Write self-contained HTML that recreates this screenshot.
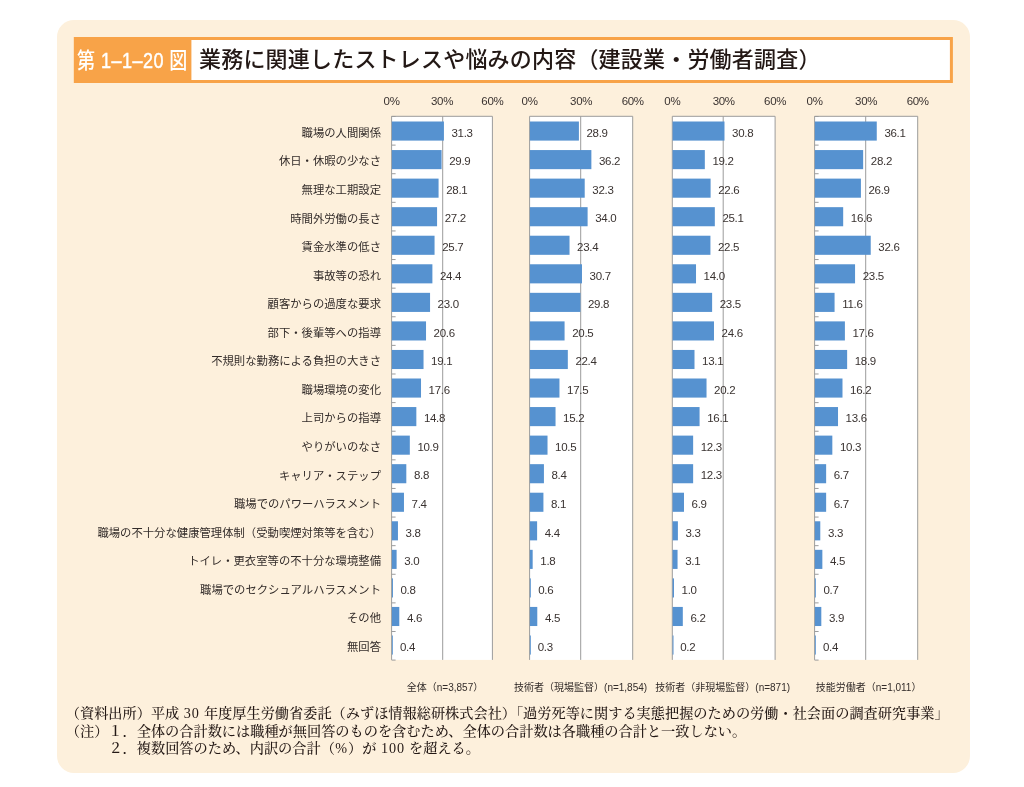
<!DOCTYPE html>
<html lang="ja">
<head>
<meta charset="utf-8">
<title>第1-1-20図 業務に関連したストレスや悩みの内容（建設業・労働者調査）</title>
<style>
html,body{margin:0;padding:0;background:#fff;}
body{width:1024px;height:787px;position:relative;overflow:hidden;color:#2b2422;
 font-family:"Liberation Sans","Noto Sans CJK JP",sans-serif;}
.fignum{position:absolute;left:74px;top:37px;width:117px;height:46px;}
.fignum span{position:absolute;left:2.7px;top:1.3px;letter-spacing:0.55px;height:46px;line-height:46px;font-size:22px;font-weight:500;color:#fff;white-space:nowrap;
 display:inline-block;transform:scaleX(0.82);transform-origin:0 50%;}
.fignum b{font-weight:inherit;-webkit-text-stroke:0.45px #fff;}
.title{position:absolute;left:199px;top:40px;height:40px;line-height:40px;font-size:22px;font-weight:500;color:#231815;white-space:nowrap;letter-spacing:0.2px;}
.ax{position:absolute;top:94.0px;width:40px;margin-left:-20px;text-align:center;font-size:11.5px;line-height:14px;color:#3a3331;letter-spacing:-0.3px;}
.val{position:absolute;font-size:11.5px;line-height:14px;color:#3a3331;white-space:nowrap;letter-spacing:-0.3px;}
.cat{position:absolute;left:60px;width:321px;text-align:right;font-size:11.35px;line-height:16px;color:#332c2a;white-space:nowrap;}
.plab{position:absolute;top:680.5px;width:200px;margin-left:-100px;text-align:center;font-size:10px;line-height:14px;color:#332c2a;white-space:nowrap;}
.note .d{letter-spacing:0.9px;margin-left:0.5px}
.note{position:absolute;word-spacing:0.5px;left:65.8px;font-weight:500;font-family:"Liberation Serif","Noto Serif CJK SC",serif;font-size:14.2px;line-height:18px;color:#231815;white-space:nowrap;}
</style>
</head>
<body>
<svg width="1024" height="787" viewBox="0 0 1024 787" style="position:absolute;left:0;top:0">
<rect x="57" y="20" width="913" height="753" rx="17" ry="17" fill="#FDF0DC"/>
<rect x="75.4" y="38.5" width="876" height="43" fill="#fff" stroke="#F8A348" stroke-width="3"/>
<rect x="73.9" y="37" width="117.5" height="46" fill="#F8A348"/>
</svg>
<div class="fignum"><span>第 <b>1–1–20</b> 図</span></div>
<div class="title">業務に関連したストレスや悩みの内容（建設業・労働者調査）</div>

<svg class="shapes" width="1024" height="787" viewBox="0 0 1024 787" style="position:absolute;left:0;top:0">
<rect x="391.60" y="116.30" width="100.80" height="543.60" fill="#fff"/>
<path d="M391.60 659.90V116.30H492.40V659.90M442.70 116.30V659.90" fill="none" stroke="#9c9c9c" stroke-width="1"/>
<rect x="391.90" y="121.50" width="52.02" height="19.1" fill="#5692D0"/>
<rect x="391.90" y="150.06" width="49.68" height="19.1" fill="#5692D0"/>
<rect x="391.90" y="178.61" width="46.67" height="19.1" fill="#5692D0"/>
<rect x="391.90" y="207.16" width="45.17" height="19.1" fill="#5692D0"/>
<rect x="391.90" y="235.72" width="42.66" height="19.1" fill="#5692D0"/>
<rect x="391.90" y="264.27" width="40.49" height="19.1" fill="#5692D0"/>
<rect x="391.90" y="292.83" width="38.15" height="19.1" fill="#5692D0"/>
<rect x="391.90" y="321.38" width="34.13" height="19.1" fill="#5692D0"/>
<rect x="391.90" y="349.94" width="31.63" height="19.1" fill="#5692D0"/>
<rect x="391.90" y="378.50" width="29.12" height="19.1" fill="#5692D0"/>
<rect x="391.90" y="407.05" width="24.44" height="19.1" fill="#5692D0"/>
<rect x="391.90" y="435.61" width="17.92" height="19.1" fill="#5692D0"/>
<rect x="391.90" y="464.16" width="14.41" height="19.1" fill="#5692D0"/>
<rect x="391.90" y="492.71" width="12.07" height="19.1" fill="#5692D0"/>
<rect x="391.90" y="521.27" width="6.05" height="19.1" fill="#5692D0"/>
<rect x="391.90" y="549.83" width="4.71" height="19.1" fill="#5692D0"/>
<rect x="391.90" y="578.38" width="1.04" height="19.1" fill="#5692D0"/>
<rect x="391.90" y="606.93" width="7.39" height="19.1" fill="#5692D0"/>
<rect x="391.90" y="635.49" width="0.90" height="19.1" fill="#5692D0"/>
<path d="M391.60 116.50h4M391.60 145.11h4M391.60 173.72h4M391.60 202.33h4M391.60 230.94h4M391.60 259.55h4M391.60 288.16h4M391.60 316.77h4M391.60 345.38h4M391.60 373.99h4M391.60 402.61h4M391.60 431.22h4M391.60 459.83h4M391.60 488.44h4M391.60 517.05h4M391.60 545.66h4M391.60 574.27h4M391.60 602.88h4M391.60 631.49h4M391.60 660.10h4" fill="none" stroke="#9c9c9c" stroke-width="1"/>
<rect x="529.60" y="116.30" width="103.10" height="543.60" fill="#fff"/>
<path d="M529.60 659.90V116.30H632.70V659.90M580.70 116.30V659.90" fill="none" stroke="#9c9c9c" stroke-width="1"/>
<rect x="529.90" y="121.50" width="49.01" height="19.1" fill="#5692D0"/>
<rect x="529.90" y="150.06" width="61.47" height="19.1" fill="#5692D0"/>
<rect x="529.90" y="178.61" width="54.81" height="19.1" fill="#5692D0"/>
<rect x="529.90" y="207.16" width="57.71" height="19.1" fill="#5692D0"/>
<rect x="529.90" y="235.72" width="39.63" height="19.1" fill="#5692D0"/>
<rect x="529.90" y="264.27" width="52.08" height="19.1" fill="#5692D0"/>
<rect x="529.90" y="292.83" width="50.55" height="19.1" fill="#5692D0"/>
<rect x="529.90" y="321.38" width="34.68" height="19.1" fill="#5692D0"/>
<rect x="529.90" y="349.94" width="37.92" height="19.1" fill="#5692D0"/>
<rect x="529.90" y="378.50" width="29.56" height="19.1" fill="#5692D0"/>
<rect x="529.90" y="407.05" width="25.64" height="19.1" fill="#5692D0"/>
<rect x="529.90" y="435.61" width="17.62" height="19.1" fill="#5692D0"/>
<rect x="529.90" y="464.16" width="14.03" height="19.1" fill="#5692D0"/>
<rect x="529.90" y="492.71" width="13.52" height="19.1" fill="#5692D0"/>
<rect x="529.90" y="521.27" width="7.21" height="19.1" fill="#5692D0"/>
<rect x="529.90" y="549.83" width="2.77" height="19.1" fill="#5692D0"/>
<rect x="529.90" y="578.38" width="0.90" height="19.1" fill="#5692D0"/>
<rect x="529.90" y="606.93" width="7.38" height="19.1" fill="#5692D0"/>
<rect x="529.90" y="635.49" width="0.90" height="19.1" fill="#5692D0"/>
<rect x="672.30" y="116.30" width="102.80" height="543.60" fill="#fff"/>
<path d="M672.30 659.90V116.30H775.10V659.90M723.20 116.30V659.90" fill="none" stroke="#9c9c9c" stroke-width="1"/>
<rect x="672.60" y="121.50" width="51.89" height="19.1" fill="#5692D0"/>
<rect x="672.60" y="150.06" width="32.23" height="19.1" fill="#5692D0"/>
<rect x="672.60" y="178.61" width="38.00" height="19.1" fill="#5692D0"/>
<rect x="672.60" y="207.16" width="42.23" height="19.1" fill="#5692D0"/>
<rect x="672.60" y="235.72" width="37.83" height="19.1" fill="#5692D0"/>
<rect x="672.60" y="264.27" width="23.42" height="19.1" fill="#5692D0"/>
<rect x="672.60" y="292.83" width="39.52" height="19.1" fill="#5692D0"/>
<rect x="672.60" y="321.38" width="41.38" height="19.1" fill="#5692D0"/>
<rect x="672.60" y="349.94" width="21.90" height="19.1" fill="#5692D0"/>
<rect x="672.60" y="378.50" width="33.93" height="19.1" fill="#5692D0"/>
<rect x="672.60" y="407.05" width="26.98" height="19.1" fill="#5692D0"/>
<rect x="672.60" y="435.61" width="20.54" height="19.1" fill="#5692D0"/>
<rect x="672.60" y="464.16" width="20.54" height="19.1" fill="#5692D0"/>
<rect x="672.60" y="492.71" width="11.39" height="19.1" fill="#5692D0"/>
<rect x="672.60" y="521.27" width="5.29" height="19.1" fill="#5692D0"/>
<rect x="672.60" y="549.83" width="4.95" height="19.1" fill="#5692D0"/>
<rect x="672.60" y="578.38" width="1.39" height="19.1" fill="#5692D0"/>
<rect x="672.60" y="606.93" width="10.21" height="19.1" fill="#5692D0"/>
<rect x="672.60" y="635.49" width="0.90" height="19.1" fill="#5692D0"/>
<rect x="814.60" y="116.30" width="103.10" height="543.60" fill="#fff"/>
<path d="M814.60 659.90V116.30H917.70V659.90M865.70 116.30V659.90" fill="none" stroke="#9c9c9c" stroke-width="1"/>
<rect x="814.90" y="121.50" width="61.86" height="19.1" fill="#5692D0"/>
<rect x="814.90" y="150.06" width="48.25" height="19.1" fill="#5692D0"/>
<rect x="814.90" y="178.61" width="46.02" height="19.1" fill="#5692D0"/>
<rect x="814.90" y="207.16" width="28.28" height="19.1" fill="#5692D0"/>
<rect x="814.90" y="235.72" width="55.83" height="19.1" fill="#5692D0"/>
<rect x="814.90" y="264.27" width="40.16" height="19.1" fill="#5692D0"/>
<rect x="814.90" y="292.83" width="19.67" height="19.1" fill="#5692D0"/>
<rect x="814.90" y="321.38" width="30.00" height="19.1" fill="#5692D0"/>
<rect x="814.90" y="349.94" width="32.24" height="19.1" fill="#5692D0"/>
<rect x="814.90" y="378.50" width="27.59" height="19.1" fill="#5692D0"/>
<rect x="814.90" y="407.05" width="23.12" height="19.1" fill="#5692D0"/>
<rect x="814.90" y="435.61" width="17.43" height="19.1" fill="#5692D0"/>
<rect x="814.90" y="464.16" width="11.24" height="19.1" fill="#5692D0"/>
<rect x="814.90" y="492.71" width="11.24" height="19.1" fill="#5692D0"/>
<rect x="814.90" y="521.27" width="5.38" height="19.1" fill="#5692D0"/>
<rect x="814.90" y="549.83" width="7.45" height="19.1" fill="#5692D0"/>
<rect x="814.90" y="578.38" width="0.91" height="19.1" fill="#5692D0"/>
<rect x="814.90" y="606.93" width="6.41" height="19.1" fill="#5692D0"/>
<rect x="814.90" y="635.49" width="0.90" height="19.1" fill="#5692D0"/>
<path d="M814.60 116.50h4M814.60 145.11h4M814.60 173.72h4M814.60 202.33h4M814.60 230.94h4M814.60 259.55h4M814.60 288.16h4M814.60 316.77h4M814.60 345.38h4M814.60 373.99h4M814.60 402.61h4M814.60 431.22h4M814.60 459.83h4M814.60 488.44h4M814.60 517.05h4M814.60 545.66h4M814.60 574.27h4M814.60 602.88h4M814.60 631.49h4M814.60 660.10h4" fill="none" stroke="#9c9c9c" stroke-width="1"/>
</svg>
<div class="ax" style="left:391.6px">0%</div>
<div class="ax" style="left:442.0px">30%</div>
<div class="ax" style="left:492.4px">60%</div>
<div class="val" style="left:451.5px;top:125.8px">31.3</div>
<div class="val" style="left:449.2px;top:154.3px">29.9</div>
<div class="val" style="left:446.2px;top:182.9px">28.1</div>
<div class="val" style="left:444.7px;top:211.4px">27.2</div>
<div class="val" style="left:442.2px;top:240.0px">25.7</div>
<div class="val" style="left:440.0px;top:268.5px">24.4</div>
<div class="val" style="left:437.6px;top:297.1px">23.0</div>
<div class="val" style="left:433.6px;top:325.6px">20.6</div>
<div class="val" style="left:431.1px;top:354.2px">19.1</div>
<div class="val" style="left:428.6px;top:382.7px">17.6</div>
<div class="val" style="left:423.9px;top:411.3px">14.8</div>
<div class="val" style="left:417.4px;top:439.9px">10.9</div>
<div class="val" style="left:413.9px;top:468.4px">8.8</div>
<div class="val" style="left:411.6px;top:497.0px">7.4</div>
<div class="val" style="left:405.6px;top:525.5px">3.8</div>
<div class="val" style="left:404.2px;top:554.1px">3.0</div>
<div class="val" style="left:400.5px;top:582.6px">0.8</div>
<div class="val" style="left:406.9px;top:611.2px">4.6</div>
<div class="val" style="left:399.9px;top:639.7px">0.4</div>
<div class="plab" style="left:445.0px">全体（n=3,857）</div>
<div class="ax" style="left:529.6px">0%</div>
<div class="ax" style="left:581.1px">30%</div>
<div class="ax" style="left:632.7px">60%</div>
<div class="val" style="left:586.5px;top:125.8px">28.9</div>
<div class="val" style="left:599.0px;top:154.3px">36.2</div>
<div class="val" style="left:592.3px;top:182.9px">32.3</div>
<div class="val" style="left:595.2px;top:211.4px">34.0</div>
<div class="val" style="left:577.1px;top:240.0px">23.4</div>
<div class="val" style="left:589.6px;top:268.5px">30.7</div>
<div class="val" style="left:588.0px;top:297.1px">29.8</div>
<div class="val" style="left:572.2px;top:325.6px">20.5</div>
<div class="val" style="left:575.4px;top:354.2px">22.4</div>
<div class="val" style="left:567.1px;top:382.7px">17.5</div>
<div class="val" style="left:563.1px;top:411.3px">15.2</div>
<div class="val" style="left:555.1px;top:439.9px">10.5</div>
<div class="val" style="left:551.5px;top:468.4px">8.4</div>
<div class="val" style="left:551.0px;top:497.0px">8.1</div>
<div class="val" style="left:544.7px;top:525.5px">4.4</div>
<div class="val" style="left:540.3px;top:554.1px">1.8</div>
<div class="val" style="left:538.2px;top:582.6px">0.6</div>
<div class="val" style="left:544.9px;top:611.2px">4.5</div>
<div class="val" style="left:537.7px;top:639.7px">0.3</div>
<div class="plab" style="left:580.6px">技術者（現場監督）(n=1,854)</div>
<div class="ax" style="left:672.3px">0%</div>
<div class="ax" style="left:723.7px">30%</div>
<div class="ax" style="left:775.1px">60%</div>
<div class="val" style="left:732.1px;top:125.8px">30.8</div>
<div class="val" style="left:712.4px;top:154.3px">19.2</div>
<div class="val" style="left:718.2px;top:182.9px">22.6</div>
<div class="val" style="left:722.4px;top:211.4px">25.1</div>
<div class="val" style="left:718.0px;top:240.0px">22.5</div>
<div class="val" style="left:703.6px;top:268.5px">14.0</div>
<div class="val" style="left:719.7px;top:297.1px">23.5</div>
<div class="val" style="left:721.6px;top:325.6px">24.6</div>
<div class="val" style="left:702.1px;top:354.2px">13.1</div>
<div class="val" style="left:714.1px;top:382.7px">20.2</div>
<div class="val" style="left:707.2px;top:411.3px">16.1</div>
<div class="val" style="left:700.7px;top:439.9px">12.3</div>
<div class="val" style="left:700.7px;top:468.4px">12.3</div>
<div class="val" style="left:691.6px;top:497.0px">6.9</div>
<div class="val" style="left:685.5px;top:525.5px">3.3</div>
<div class="val" style="left:685.2px;top:554.1px">3.1</div>
<div class="val" style="left:681.6px;top:582.6px">1.0</div>
<div class="val" style="left:690.4px;top:611.2px">6.2</div>
<div class="val" style="left:680.2px;top:639.7px">0.2</div>
<div class="plab" style="left:722.7px">技術者（非現場監督）(n=871)</div>
<div class="ax" style="left:814.6px">0%</div>
<div class="ax" style="left:866.1px">30%</div>
<div class="ax" style="left:917.7px">60%</div>
<div class="val" style="left:884.4px;top:125.8px">36.1</div>
<div class="val" style="left:870.8px;top:154.3px">28.2</div>
<div class="val" style="left:868.5px;top:182.9px">26.9</div>
<div class="val" style="left:850.8px;top:211.4px">16.6</div>
<div class="val" style="left:878.3px;top:240.0px">32.6</div>
<div class="val" style="left:862.7px;top:268.5px">23.5</div>
<div class="val" style="left:842.2px;top:297.1px">11.6</div>
<div class="val" style="left:852.5px;top:325.6px">17.6</div>
<div class="val" style="left:854.7px;top:354.2px">18.9</div>
<div class="val" style="left:850.1px;top:382.7px">16.2</div>
<div class="val" style="left:845.6px;top:411.3px">13.6</div>
<div class="val" style="left:839.9px;top:439.9px">10.3</div>
<div class="val" style="left:833.7px;top:468.4px">6.7</div>
<div class="val" style="left:833.7px;top:497.0px">6.7</div>
<div class="val" style="left:827.9px;top:525.5px">3.3</div>
<div class="val" style="left:829.9px;top:554.1px">4.5</div>
<div class="val" style="left:823.4px;top:582.6px">0.7</div>
<div class="val" style="left:828.9px;top:611.2px">3.9</div>
<div class="val" style="left:822.9px;top:639.7px">0.4</div>
<div class="plab" style="left:868.6px">技能労働者（n=1,011）</div>
<div class="cat" style="top:124.8px">職場の人間関係</div>
<div class="cat" style="top:153.4px">休日・休暇の少なさ</div>
<div class="cat" style="top:181.9px">無理な工期設定</div>
<div class="cat" style="top:210.5px">時間外労働の長さ</div>
<div class="cat" style="top:239.0px">賃金水準の低さ</div>
<div class="cat" style="top:267.6px">事故等の恐れ</div>
<div class="cat" style="top:296.1px">顧客からの過度な要求</div>
<div class="cat" style="top:324.7px">部下・後輩等への指導</div>
<div class="cat" style="top:353.2px">不規則な勤務による負担の大きさ</div>
<div class="cat" style="top:381.8px">職場環境の変化</div>
<div class="cat" style="top:410.4px">上司からの指導</div>
<div class="cat" style="top:438.9px">やりがいのなさ</div>
<div class="cat" style="top:467.5px">キャリア・ステップ</div>
<div class="cat" style="top:496.0px">職場でのパワーハラスメント</div>
<div class="cat" style="top:524.6px">職場の不十分な健康管理体制（受動喫煙対策等を含む）</div>
<div class="cat" style="top:553.1px">トイレ・更衣室等の不十分な環境整備</div>
<div class="cat" style="top:581.7px">職場でのセクシュアルハラスメント</div>
<div class="cat" style="top:610.2px">その他</div>
<div class="cat" style="top:638.8px">無回答</div>
<div class="note" style="top:703.5px">（資料出所）平成 <span class="d">30</span> 年度厚生労働省委託（みずほ情報総研株式会社）「過労死等に関する実態把握のための労働・社会面の調査研究事業」</div>
<div class="note" style="top:721.5px">（注）１．全体の合計数には職種が無回答のものを含むため、全体の合計数は各職種の合計と一致しない。</div>
<div class="note" style="top:739.4px;left:108.4px">２．複数回答のため、内訳の合計（<span class="d">%</span>）が <span class="d">100</span> を超える。</div>
</body>
</html>
